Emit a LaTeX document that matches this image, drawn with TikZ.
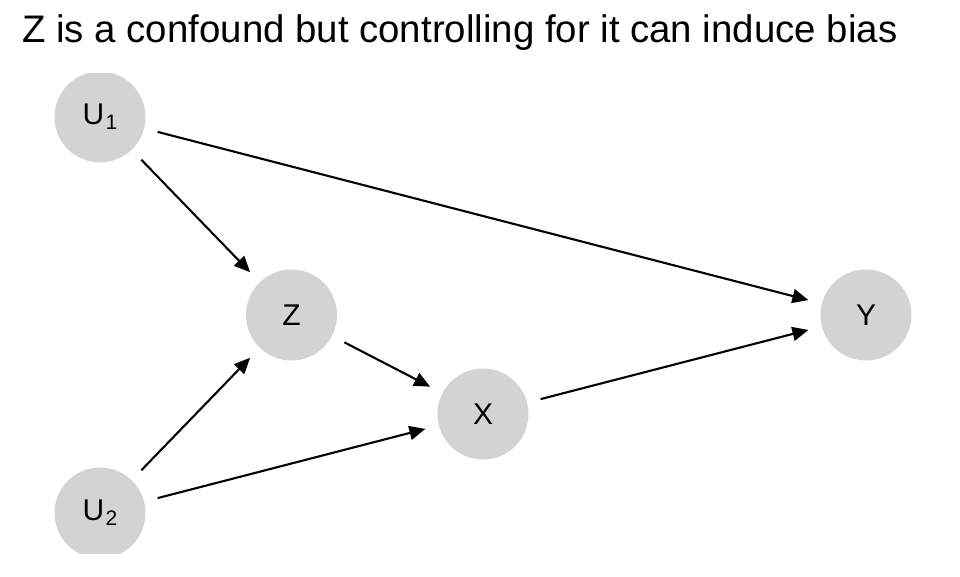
\documentclass[tikz,border=0pt]{standalone}
\usepackage{fontspec}
\setmainfont{Liberation Sans}
\usepackage{xcolor}
\usetikzlibrary{arrows.meta}
\definecolor{dagfill}{HTML}{D3D3D3}
\newcommand{\subidx}[2]{#1\kern1.5pt\raisebox{-5pt}{\fontsize{21}{21}\selectfont #2}}

\begin{document}
\begin{tikzpicture}[
  x=191.5pt, y=99pt,
  dagnode/.style={circle, fill=dagfill, minimum size=91pt, inner sep=0pt, outer sep=14pt,
                  font=\fontsize{30}{30}\selectfont},
  flow/.style={-{Triangle[length=16pt, width=14pt]}, line width=2.1pt}
]
  \useasboundingbox (-100pt,-63pt) rectangle (860pt,513pt);
  \node[anchor=base west, inner sep=0pt, font=\fontsize{38.4}{40}\selectfont] (title) at (-78pt,470pt)
    {Z is a confound but controlling for it can induce bias};

  \begin{scope}
    \clip (-100pt,-40pt) rectangle (860pt,439pt);
    % nodes
    \node[dagnode] (u1) at (0,4) {\subidx{U}{1}};
    \node[dagnode] (u2) at (0,0) {\subidx{U}{2}};
    \node[dagnode] (z)  at (1,2) {Z};
    \node[dagnode] (x)  at (2,1) {X};
    \node[dagnode] (y)  at (4,2) {Y};
    % edges
    \draw[flow] (u1) -- (y);
    \draw[flow] (u1) -- (z);
    \draw[flow] (u2) -- (z);
    \draw[flow] (u2) -- (x);
    \draw[flow] (z) -- (x);
    \draw[flow] (x) -- (y);
  \end{scope}
\end{tikzpicture}
\end{document}
